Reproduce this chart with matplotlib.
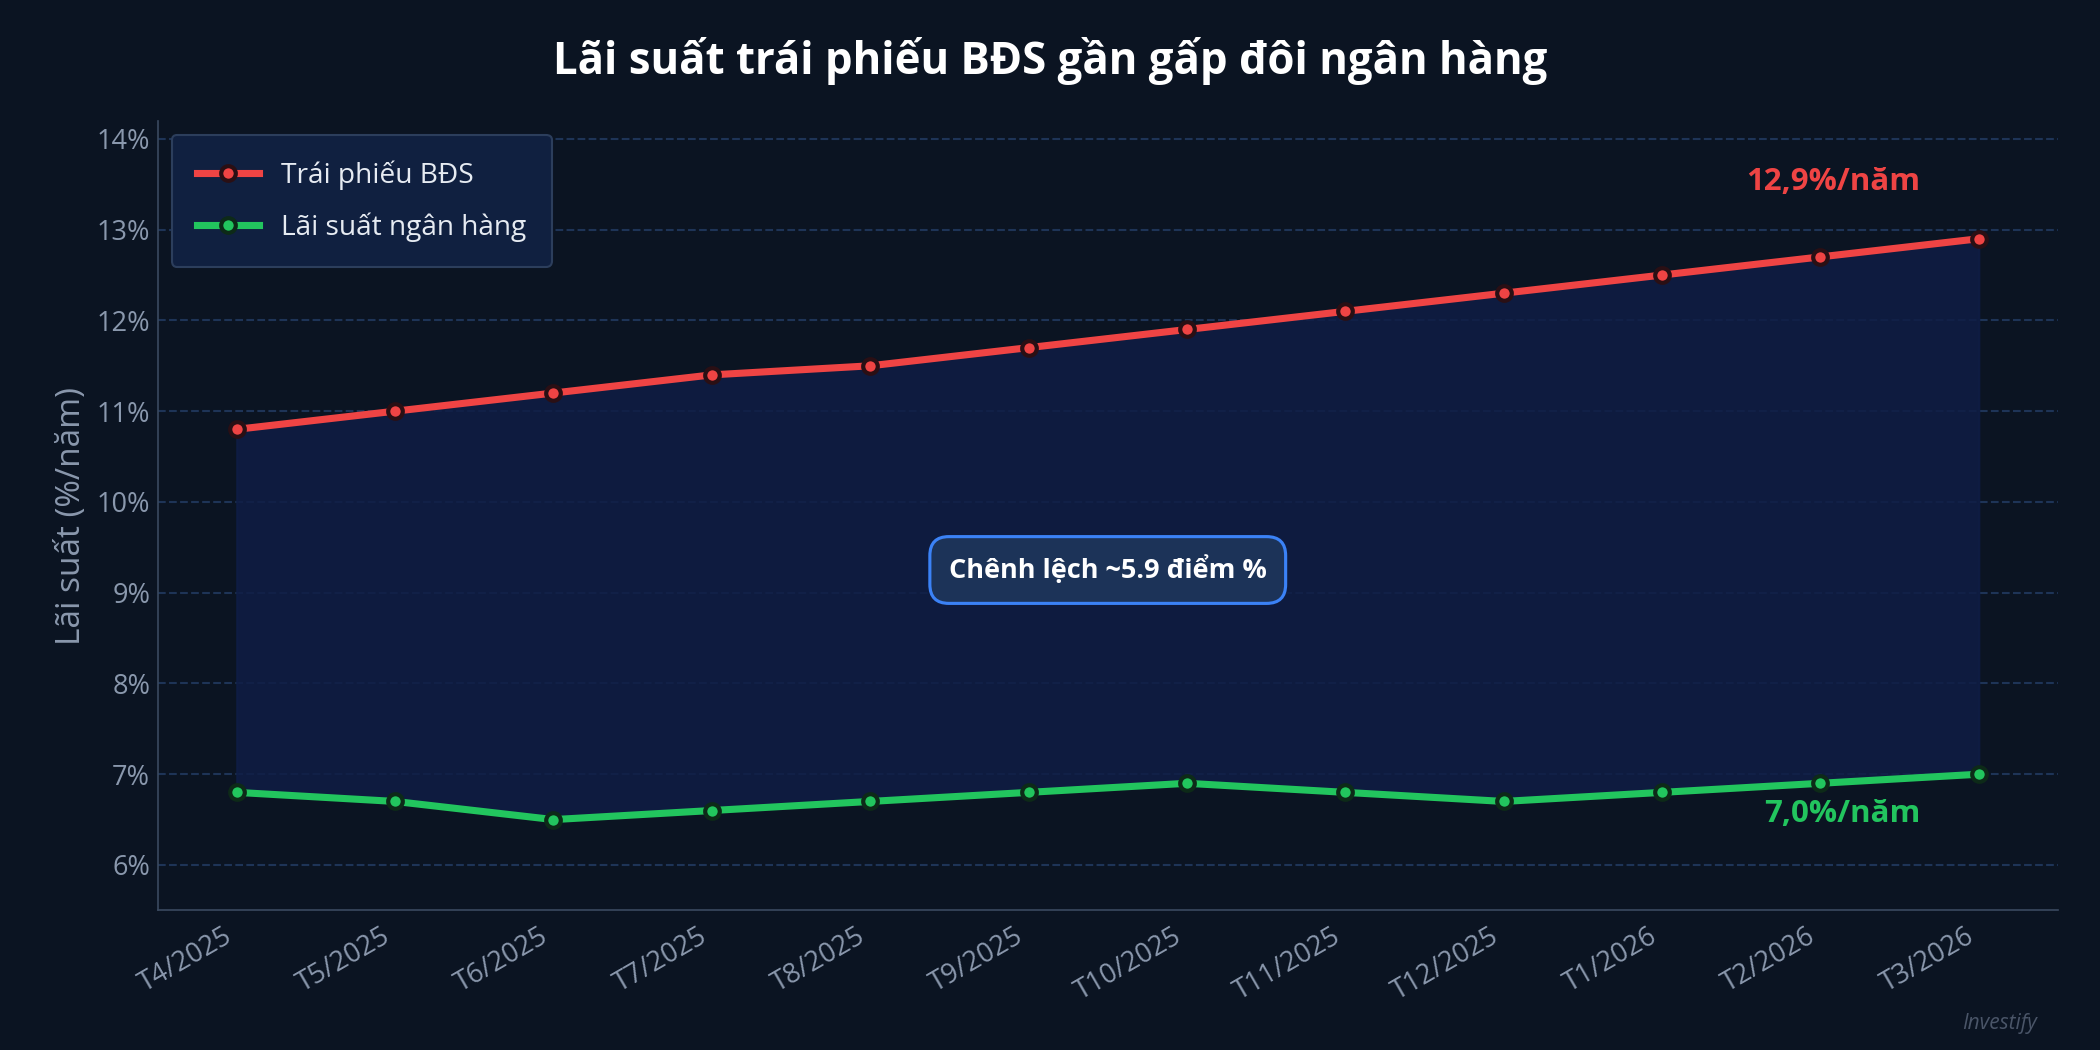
import matplotlib

matplotlib.use("Agg")

import matplotlib.pyplot as plt
from matplotlib.ticker import FuncFormatter

months = ["T4/2025", "T5/2025", "T6/2025", "T7/2025", "T8/2025", "T9/2025",
          "T10/2025", "T11/2025", "T12/2025", "T1/2026", "T2/2026", "T3/2026"]
bond_rate = [10.8, 11.0, 11.2, 11.4, 11.5, 11.7, 11.9, 12.1, 12.3, 12.5, 12.7, 12.9]
bank_rate = [6.8, 6.7, 6.5, 6.6, 6.7, 6.8, 6.9, 6.8, 6.7, 6.8, 6.9, 7.0]

BG = "#0b1422"
RED = "#ef4444"
GREEN = "#22c55e"

plt.rcParams["font.family"] = ["Open Sans", "Noto Sans", "DejaVu Sans"]

fig = plt.figure(figsize=(14, 7), dpi=150, facecolor=BG)
ax = fig.add_axes([0.075, 0.133, 0.905, 0.752], facecolor=BG)

x = list(range(len(months)))
ax.fill_between(x, bank_rate, bond_rate, color="#0f1d45", alpha=0.85, zorder=1)
ax.plot(x, bond_rate, color=RED, lw=3.4, marker="o", ms=7,
        mfc=RED, mec="#2a0f14", mew=2, label="Trái phiếu BĐS", zorder=3)
ax.plot(x, bank_rate, color=GREEN, lw=3.4, marker="o", ms=7,
        mfc=GREEN, mec="#0d2a18", mew=2, label="Lãi suất ngân hàng", zorder=3)

ax.set_xlim(-0.5, 11.5)
ax.set_ylim(5.5, 14.2)
ax.set_yticks(range(6, 15))
ax.yaxis.set_major_formatter(FuncFormatter(lambda v, _: f"{v:.0f}%"))
ax.set_xticks(x)
ax.set_xticklabels(months, rotation=30, ha="right")
ax.tick_params(colors="#8a98ad", labelsize=13, length=0)
ax.tick_params(axis="x", pad=6)
ax.grid(axis="y", color="#1e3457", ls="--", lw=1)
ax.set_axisbelow(True)
for side in ("top", "right"):
    ax.spines[side].set_visible(False)
for side in ("left", "bottom"):
    ax.spines[side].set_color("#3a4a60")

ax.set_ylabel("Lãi suất (%/năm)", color="#8a98ad", fontsize=16)

ax.annotate(f"{bond_rate[-1]:.1f}%/năm".replace(".", ","), (x[-1], bond_rate[-1]),
            xytext=(-28, 20), textcoords="offset points", ha="right", va="bottom",
            color=RED, fontsize=15, fontweight="bold")
ax.annotate(f"{bank_rate[-1]:.1f}%/năm".replace(".", ","), (x[-1], bank_rate[-1]),
            xytext=(-28, -12), textcoords="offset points", ha="right", va="top",
            color=GREEN, fontsize=15, fontweight="bold")

gap = bond_rate[-1] - bank_rate[-1]
ax.text(5.5, 9.25, f"Chênh lệch ~{gap:.1f} điểm %", ha="center", va="center",
        color="white", fontsize=13, fontweight="bold", zorder=4,
        bbox=dict(boxstyle="round,pad=0.7", fc="#1c3358", ec="#3b82f6", lw=1.5))

ax.legend(loc="upper left", fontsize=13.5, labelcolor="#e6ebf2",
          facecolor="#102040", edgecolor="#2c3e5c", framealpha=1,
          borderpad=0.9, handlelength=2.2, labelspacing=0.8)

fig.suptitle("Lãi suất trái phiếu BĐS gần gấp đôi ngân hàng", color="white",
             fontsize=21, fontweight="bold", y=0.965)
fig.text(0.97, 0.015, "Investify", color="#4a5568", fontsize=10,
         style="italic", ha="right", va="bottom")

fig.savefig("out.png", dpi=150, facecolor=BG)
